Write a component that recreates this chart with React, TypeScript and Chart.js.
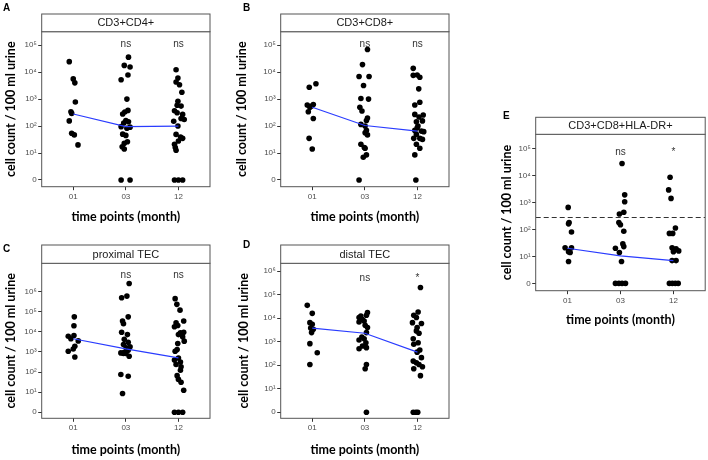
import React, { useEffect, useRef } from 'react';
import { Chart, registerables } from 'chart.js';

Chart.register(...registerables);

// ---------- categories & tick labels ----------
const timePoints = ['01', '03', '12'];
const yTickExponentsSmall = [0, 1, 2, 3, 4, 5];
const yTickExponentsLarge = [0, 1, 2, 3, 4, 5, 6];
const SUP = ['⁰', '¹', '²', '³', '⁴', '⁵', '⁶', '⁷'];

// ---------- A: CD3+CD4+ (cells / 100 ml urine) ----------
const cd4Month01 = [24500, 5600, 4000, 780, 340, 295, 155, 54, 47, 20];
const cd4Jitter01 = [-0.076, 0, 0.03, 0.04, -0.044, -0.03, -0.076, -0.03, 0.02, 0.09];
const cd4Month03 = [36000, 17800, 15500, 7800, 5200, 1000, 380, 330, 280, 160, 145, 130, 95, 91, 83, 50, 45, 26, 23, 17, 14, 0, 0];
const cd4Jitter03 = [0.05, -0.03, 0.08, 0.04, -0.09, 0.02, 0.04, -0.02, -0.06, 0.0, 0.05, -0.04, -0.09, 0.08, 0.02, -0.06, 0.0, 0.03, -0.03, -0.07, -0.03, -0.09, 0.08];
const cd4Month12 = [12300, 6000, 4300, 3400, 1800, 830, 590, 550, 370, 310, 270, 190, 175, 150, 100, 49, 39, 35, 28, 21, 16, 12.6, 0, 0, 0];
const cd4Jitter12 = [-0.045, -0.01, -0.045, 0.02, 0.065, -0.01, -0.025, 0.05, -0.075, -0.025, 0.08, 0.05, 0.11, -0.09, -0.01, -0.045, 0.04, 0.08, 0, -0.075, -0.06, -0.045, -0.075, 0, 0.08];
const cd4Medians = [280, 95, 100];
const cd4Signif = ['', 'ns', 'ns'];
const cd4SignifY = 112000;

// ---------- B: CD3+CD8+ ----------
const cd8Month01 = [2750, 3700, 600, 500, 630, 550, 340, 190, 35, 14];
const cd8Jitter01 = [-0.057, 0.07, -0.095, -0.045, 0.02, -0.01, -0.075, 0.02, -0.06, 0.0];
const cd8Month03 = [69000, 19000, 6900, 6900, 3200, 1050, 1000, 500, 360, 200, 160, 115, 100, 69, 56, 47, 21, 16, 15, 8.5, 7, 0];
const cd8Jitter03 = [0.05, -0.045, -0.11, 0.08, -0.025, -0.075, 0.07, -0.095, -0.055, 0.05, 0.03, -0.075, 0.005, 0.03, 0.005, 0.05, -0.075, -0.01, 0.005, 0.03, -0.03, -0.11];
const cd8Month12 = [13800, 7600, 7800, 6500, 2400, 760, 600, 270, 257, 215, 145, 155, 100, 87, 69, 65, 62, 49, 35, 35, 32, 21, 15, 8.5, 0];
const cd8Jitter12 = [-0.08, -0.08, -0.005, 0.045, 0.025, 0.045, -0.05, -0.05, 0.11, 0.03, -0.02, 0.095, 0.01, -0.005, -0.05, 0.075, 0.12, -0.02, -0.07, 0.045, 0.095, -0.02, 0.045, -0.05, -0.03];
const cd8Medians = [500, 105, 65];
const cd8Signif = ['', 'ns', 'ns'];
const cd8SignifY = 112000;

// ---------- C: proximal TEC ----------
const ptecMonth01 = [55000, 20000, 6000, 6500, 4500, 3500, 1900, 1400, 1070, 560];
const ptecJitter01 = [0.02, 0.013, -0.095, 0.013, -0.045, 0.095, 0.03, 0, -0.095, 0.03];
const ptecMonth03 = [2500000, 590000, 490000, 55000, 34000, 25000, 9500, 7200, 4200, 3000, 2300, 1800, 1600, 1200, 960, 890, 830, 610, 75, 62, 8.5, 830, 1100];
const ptecJitter03 = [0.063, 0.02, -0.08, 0.045, -0.063, -0.045, -0.08, 0.03, -0.03, 0.045, -0.045, 0.08, 0.006, 0.045, -0.03, -0.095, 0, 0.063, -0.095, 0.045, -0.063, -0.045, 0.02];
const ptecMonth12 = [440000, 230000, 118000, 34000, 27500, 20500, 17800, 9500, 8900, 7200, 5600, 3400, 2600, 1300, 1070, 500, 390, 310, 235, 180, 123, 66, 43, 31, 12.3, 0, 0, 0];
const ptecJitter12 = [-0.063, -0.03, 0.03, 0.1, -0.045, -0.013, -0.076, 0.1, 0.038, 0, 0.08, 0.11, -0.013, -0.025, -0.063, 0, -0.076, 0.038, -0.045, 0.05, 0.038, -0.025, 0, 0.05, 0.1, -0.076, 0, 0.08];
const ptecMedians = [4500, 1400, 500];
const ptecSignif = ['', 'ns', 'ns'];
const ptecSignifY = 6300000;

// ---------- D: distal TEC ----------
const dtecMonth01 = [35500, 16200, 6500, 5500, 3800, 2450, 3400, 830, 340, 107];
const dtecJitter01 = [-0.095, 0, -0.045, 0, -0.03, -0.013, 0.02, -0.045, 0.095, -0.045];
const dtecMonth03 = [17400, 13500, 10700, 8900, 6900, 5000, 4000, 2450, 1600, 1180, 1350, 910, 660, 500, 560, 107, 71, 0, 12500, 7600];
const dtecJitter03 = [0.05, 0.03, -0.11, -0.045, -0.11, 0.006, 0.05, 0.03, -0.057, -0.11, -0.013, 0.02, -0.045, -0.11, 0.03, 0.03, 0.006, 0.03, -0.076, -0.013];
const dtecMonth12 = [204000, 18600, 13500, 10700, 6500, 6000, 4000, 2900, 2300, 1350, 910, 780, 445, 360, 210, 150, 128, 107, 86, 71, 36, 0, 0, 0];
const dtecJitter12 = [0.057, 0.013, -0.07, -0.02, -0.095, 0.076, -0.006, -0.02, 0.03, -0.08, 0.013, -0.07, 0.045, -0.006, 0.076, -0.08, -0.02, 0.03, 0.095, -0.07, 0.057, -0.08, -0.03, 0.006];
const dtecMedians = [3800, 2300, 360];
const dtecSignif = ['', 'ns', '*'];
const dtecSignifY = 490000;

// ---------- E: CD3+CD8+HLA-DR+ ----------
const hlaMonth01 = [650, 180, 160, 80, 21, 21, 14, 15, 6.5];
const hlaJitter01 = [0.013, 0.03, 0.02, 0.076, -0.045, 0.076, 0.05, 0.02, 0.02];
const hlaMonth03 = [27500, 1900, 1050, 430, 370, 180, 148, 85, 29, 23, 20, 14, 6.5, 0, 0, 0, 0];
const hlaJitter03 = [0.03, 0.08, 0.08, 0.063, -0.02, -0.03, 0, 0.063, 0.045, 0.063, -0.095, -0.02, 0.02, -0.095, -0.03, 0.03, 0.095];
const hlaMonth12 = [8500, 2900, 1400, 112, 71, 71, 21, 19, 16, 15, 7, 7, 0, 0, 0, 0];
const hlaJitter12 = [-0.063, -0.09, -0.045, 0.038, -0.076, -0.013, -0.025, 0.05, 0.1, 0, -0.025, 0.05, -0.076, -0.02, 0.035, 0.09];
const hlaMedians = [20, 10.5, 7];
const hlaSignif = ['', 'ns', '*'];
const hlaSignifY = 70000;
const hlaThreshold = 275;

// ---------- helpers / styles ----------
const toLog = (v: number) => (v > 0 ? Math.log10(v) : 0);
const X_MIN = 0.4;
const X_MAX = 3.6;
const TITLE_SIZE = 12.5;
const TITLE_LH = TITLE_SIZE * 1.2;
const SANS = '"Liberation Sans", Arial, Helvetica, sans-serif';
const TITLE_FAMILY = 'Lato, "Open Sans", sans-serif';

type Panel = {
  letter: string;
  title: string;
  groups: number[][];
  jitters: number[][];
  medians: number[];
  signif: string[];
  signifY: number;
  ticks: number[];
  yMin: number;
  yMax: number;
  threshold?: number;
  box: { left: number; top: number; w: number; h: number };
  area: { left: number; top: number; right: number; bottom: number };
  titleX: number;
  titleY: number;
  letterX: number;
  letterY: number;
  stripH: number;
};

const panels: Panel[] = [
  {
    letter: 'A', title: 'CD3+CD4+',
    groups: [cd4Month01, cd4Month03, cd4Month12], jitters: [cd4Jitter01, cd4Jitter03, cd4Jitter12],
    medians: cd4Medians, signif: cd4Signif, signifY: cd4SignifY,
    ticks: yTickExponentsSmall, yMin: -0.25, yMax: 5.5,
    box: { left: 0, top: 0, w: 230, h: 230 },
    area: { left: 41.7, top: 31.7, right: 210, bottom: 186.7 },
    titleX: 10.5, titleY: 216.7, letterX: 3, letterY: 3, stripH: 17.7,
  },
  {
    letter: 'B', title: 'CD3+CD8+',
    groups: [cd8Month01, cd8Month03, cd8Month12], jitters: [cd8Jitter01, cd8Jitter03, cd8Jitter12],
    medians: cd8Medians, signif: cd8Signif, signifY: cd8SignifY,
    ticks: yTickExponentsSmall, yMin: -0.25, yMax: 5.5,
    box: { left: 230, top: 0, w: 230, h: 230 },
    area: { left: 50.7, top: 31.7, right: 219, bottom: 186.7 },
    titleX: 12, titleY: 216.7, letterX: 13, letterY: 3, stripH: 17.7,
  },
  {
    letter: 'C', title: 'proximal TEC',
    groups: [ptecMonth01, ptecMonth03, ptecMonth12], jitters: [ptecJitter01, ptecJitter03, ptecJitter12],
    medians: ptecMedians, signif: ptecSignif, signifY: ptecSignifY,
    ticks: yTickExponentsLarge, yMin: -0.3, yMax: 7.4,
    box: { left: 0, top: 230, w: 230, h: 230 },
    area: { left: 41.7, top: 33.3, right: 210, bottom: 188.3 },
    titleX: 11, titleY: 220, letterX: 3, letterY: 14, stripH: 18.3,
  },
  {
    letter: 'D', title: 'distal TEC',
    groups: [dtecMonth01, dtecMonth03, dtecMonth12], jitters: [dtecJitter01, dtecJitter03, dtecJitter12],
    medians: dtecMedians, signif: dtecSignif, signifY: dtecSignifY,
    ticks: yTickExponentsLarge, yMin: -0.26, yMax: 6.34,
    box: { left: 230, top: 230, w: 230, h: 230 },
    area: { left: 50.7, top: 33.3, right: 219, bottom: 188.3 },
    titleX: 14, titleY: 220, letterX: 13, letterY: 10, stripH: 18.3,
  },
  {
    letter: 'E', title: 'CD3+CD8+HLA-DR+',
    groups: [hlaMonth01, hlaMonth03, hlaMonth12], jitters: [hlaJitter01, hlaJitter03, hlaJitter12],
    medians: hlaMedians, signif: hlaSignif, signifY: hlaSignifY,
    ticks: yTickExponentsSmall, yMin: -0.27, yMax: 5.52, threshold: hlaThreshold,
    box: { left: 470, top: 100, w: 238, h: 240 },
    area: { left: 65.7, top: 34.3, right: 236.7, bottom: 190.7 },
    titleX: 36.5, titleY: 220, letterX: 33, letterY: 11, stripH: 17,
  },
];

function PanelChart({ p }: { p: Panel }) {
  const ref = useRef<HTMLCanvasElement>(null);

  useEffect(() => {
    const canvas = ref.current;
    if (!canvas) return;
    const { box, area } = p;
    const padLeft = p.titleX - TITLE_LH / 2;
    const padBottom = box.h - p.titleY - TITLE_LH / 2;

    const points = p.groups.flatMap((g, gi) =>
      g.map((v, i) => ({ x: gi + 1 + p.jitters[gi][i], y: toLog(v) }))
    );

    const datasets: any[] = [
      {
        data: p.medians.map((m, i) => ({ x: i + 1, y: toLog(m) })),
        showLine: true, borderColor: '#2a3cff', borderWidth: 1.2,
        pointRadius: 0, pointHoverRadius: 0, fill: false,
      },
    ];
    if (p.threshold !== undefined) {
      datasets.push({
        data: [{ x: X_MIN, y: toLog(p.threshold) }, { x: X_MAX, y: toLog(p.threshold) }],
        showLine: true, borderColor: '#333', borderWidth: 1.1, borderDash: [5, 3],
        pointRadius: 0, pointHoverRadius: 0, fill: false,
      });
    }
    datasets.push({
      data: points, pointRadius: 2.8, pointHoverRadius: 2.8,
      backgroundColor: '#000', borderWidth: 0,
    });

    const overlay = {
      id: 'overlay',
      afterDraw(chart: any) {
        const { ctx, chartArea: a, scales } = chart;
        ctx.save();
        ctx.strokeStyle = '#555';
        ctx.lineWidth = 1;
        ctx.strokeRect(a.left, a.top, a.right - a.left, a.bottom - a.top);
        const st = a.top - p.stripH;
        ctx.fillStyle = '#fff';
        ctx.fillRect(a.left, st, a.right - a.left, p.stripH);
        ctx.strokeRect(a.left, st, a.right - a.left, p.stripH);
        ctx.fillStyle = '#1a1a1a';
        ctx.font = `11px ${SANS}`;
        ctx.textAlign = 'center';
        ctx.textBaseline = 'middle';
        ctx.fillText(p.title, (a.left + a.right) / 2, st + p.stripH / 2 + 0.5);
        ctx.fillStyle = '#333';
        ctx.font = `10px ${SANS}`;
        p.signif.forEach((s, i) => {
          if (!s) return;
          ctx.fillText(s, scales.x.getPixelForValue(i + 1), scales.y.getPixelForValue(toLog(p.signifY)));
        });
        ctx.fillStyle = '#000';
        ctx.font = `bold 10px ${SANS}`;
        ctx.textAlign = 'left';
        ctx.textBaseline = 'top';
        ctx.fillText(p.letter, p.letterX, p.letterY);
        ctx.restore();
      },
    };

    const tickFont = { family: SANS, size: 8 };
    const titleFont = { family: TITLE_FAMILY, size: TITLE_SIZE, weight: 'bold' as const, lineHeight: 1.2 };

    const chart = new Chart(canvas, {
      type: 'scatter',
      data: { datasets },
      plugins: [overlay],
      options: {
        responsive: false,
        animation: false,
        devicePixelRatio: 1,
        events: [],
        layout: { padding: { left: padLeft, top: area.top, right: box.w - area.right, bottom: padBottom } },
        plugins: { legend: { display: false }, tooltip: { enabled: false } },
        scales: {
          x: {
            type: 'linear', min: X_MIN, max: X_MAX,
            afterBuildTicks: (s: any) => { s.ticks = timePoints.map((_, i) => ({ value: i + 1 })); },
            afterFit: (s: any) => { s.height = box.h - padBottom - area.bottom; },
            ticks: {
              callback: (v: any) => timePoints[Math.round(Number(v)) - 1] ?? '',
              color: '#4d4d4d', font: tickFont, padding: 1.5, maxRotation: 0, autoSkip: false,
            },
            grid: { display: true, drawOnChartArea: false, drawTicks: true, tickLength: 3.5, color: '#333' },
            border: { display: false },
            title: { display: true, text: 'time points (month)', color: '#000', font: titleFont, padding: 0 },
          },
          y: {
            type: 'linear', min: p.yMin, max: p.yMax,
            afterBuildTicks: (s: any) => { s.ticks = p.ticks.map((e) => ({ value: e })); },
            afterFit: (s: any) => { s.width = area.left - padLeft; },
            ticks: {
              callback: (v: any) => (Number(v) === 0 ? '0' : '10' + SUP[Math.round(Number(v))]),
              color: '#4d4d4d', font: tickFont, padding: 1.5, autoSkip: false,
            },
            grid: { display: true, drawOnChartArea: false, drawTicks: true, tickLength: 3.5, color: '#333' },
            border: { display: false },
            title: { display: true, text: 'cell count / 100 ml urine', color: '#000', font: titleFont, padding: 0 },
          },
        },
      } as any,
    });
    return () => chart.destroy();
  }, [p]);

  return (
    <canvas
      ref={ref}
      width={p.box.w}
      height={p.box.h}
      style={{ position: 'absolute', left: p.box.left, top: p.box.top, width: p.box.w, height: p.box.h }}
    />
  );
}

export default function App() {
  return (
    <div style={{ position: 'absolute', left: 0, top: 0, width: 708, height: 460, background: '#fff', overflow: 'hidden' }}>
      {panels.map((p) => (
        <PanelChart key={p.letter} p={p} />
      ))}
    </div>
  );
}
